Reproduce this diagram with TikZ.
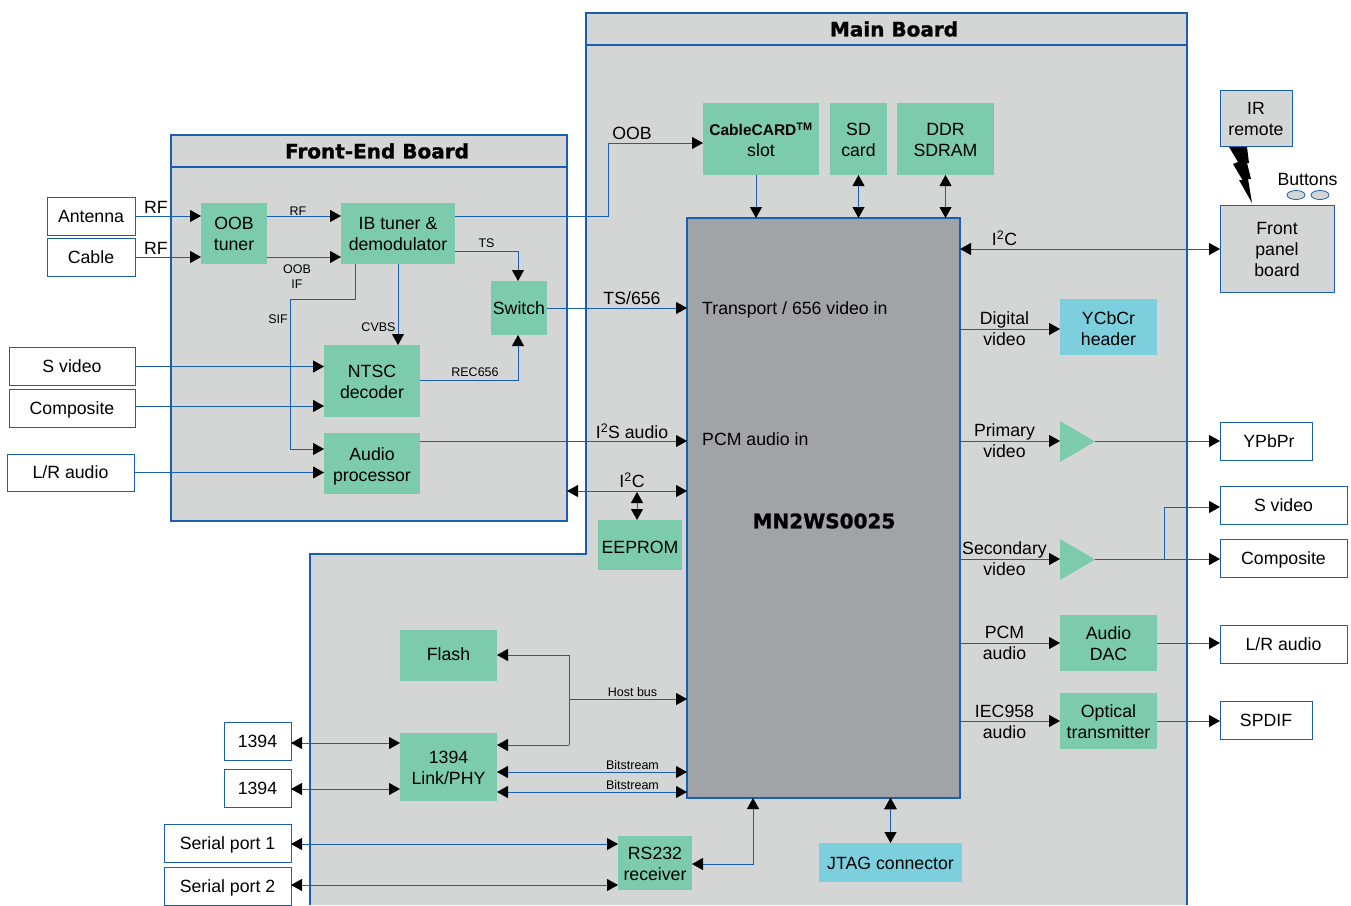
\documentclass[tikz,border=0pt]{standalone}
\usepackage{fontspec}
\setmainfont{Liberation Sans}
\newfontfamily\boardfont[FakeBold=1.2]{DejaVu Sans Bold}
\usetikzlibrary{arrows.meta}
\definecolor{boardgrey}{HTML}{D4D6D6}
\definecolor{socgrey}{HTML}{A0A4A7}
\definecolor{boardblue}{HTML}{1A5FAF}
\definecolor{chipgreen}{HTML}{7BCBAC}
\definecolor{headercyan}{HTML}{7CD0DE}

\begin{document}
\begin{tikzpicture}[x=1pt, y=-1pt,
  chip node/.style={fill=chipgreen, inner sep=0pt, outer sep=0pt, align=center, text depth=0pt, font=\fontsize{17.7}{21}\selectfont},
  cyan node/.style={chip node, fill=headercyan},
  port node/.style={chip node, fill=white, draw=boardblue, line width=1pt},
  grey node/.style={port node, fill=boardgrey},
  two lines/.style={text height=35pt},
  big label/.style={inner sep=0pt, align=center, text depth=0pt, font=\fontsize{17.7}{21}\selectfont},
  small label/.style={inner sep=0pt, align=center, font=\fontsize{12.5}{15}\selectfont},
  title label/.style={inner sep=0pt, font=\boardfont\fontsize{20}{24}\selectfont},
  link/.style={draw=boardblue, line width=1pt},
  to/.style={link, -{Triangle[length=11pt,width=12pt,color=black]}},
  both/.style={link, {Triangle[length=11pt,width=12pt,color=black]}-{Triangle[length=11pt,width=12pt,color=black]}}]
\useasboundingbox (0,0) rectangle (1351,905);

% main board
\fill[boardgrey] (586,13) -- (1187,13) -- (1187,905) -- (310,905) -- (310,554) -- (586,554) -- cycle;
\draw[boardblue, line width=1.8pt] (310,905) -- (310,554) -- (586,554) -- (586,13) -- (1187,13) -- (1187,905);
\draw[boardblue, line width=1.8pt] (586,45) -- (1187,45);
\node[title label] (maintitle) at (894,29) {Main Board};

% front-end board
\draw[boardblue, fill=boardgrey, line width=1.8pt] (171,135) rectangle (567,521);
\draw[boardblue, line width=1.8pt] (171,167) -- (567,167);
\node[title label] (fronttitle) at (377,151) {Front-End Board};

% left ports
\node[port node, minimum width=88pt, minimum height=38pt] (antenna) at (91,216) {Antenna};
\node[port node, minimum width=88pt, minimum height=38pt] (cable) at (91,257) {Cable};
\node[port node, minimum width=126pt, minimum height=38pt] (svideoin) at (72,366.5) {S video};
\node[port node, minimum width=126pt, minimum height=38pt] (compositein) at (72,408) {Composite};
\node[port node, minimum width=127pt, minimum height=37pt] (lrin) at (70.5,472.5) {L/R audio};

% front-end blocks
\node[chip node, minimum width=66pt, minimum height=61pt] (oob) at (234,233.5) {OOB\\tuner};
\node[chip node, minimum width=114pt, minimum height=61pt] (ib) at (398,233.5) {IB tuner \&\\demodulator};
\node[chip node, minimum width=56pt, minimum height=54pt] (switch) at (519,308) {Switch};
\node[chip node, two lines, minimum width=96pt, minimum height=72pt] (ntsc) at (372,381) {NTSC\\decoder};
\node[chip node, two lines, minimum width=96pt, minimum height=61pt] (audioproc) at (372,463.5) {Audio\\processor};

% main board blocks
\node[chip node, two lines, minimum width=116pt, minimum height=72pt] (cablecard) at (761,139) {{\bfseries\fontsize{15.5}{21}\selectfont CableCARD\textsuperscript{TM}}\\slot};
\node[chip node, two lines, minimum width=57pt, minimum height=72pt] (sd) at (858.5,139) {SD\\card};
\node[chip node, two lines, minimum width=97pt, minimum height=72pt] (ddr) at (945.5,139) {DDR\\SDRAM};
\node[port node, fill=socgrey, line width=1.8pt, minimum width=273pt, minimum height=580pt] (soc) at (823.5,508) {};
\node[chip node, text height=16pt, minimum width=84pt, minimum height=50pt] (eeprom) at (640,545) {EEPROM};
\node[chip node, text height=9pt, minimum width=97pt, minimum height=51pt] (flash) at (448.5,655.5) {Flash};
\node[chip node, two lines, minimum width=97pt, minimum height=68pt] (linkphy) at (448.5,767) {1394\\Link/PHY};
\node[chip node, two lines, minimum width=74pt, minimum height=54pt] (rs232) at (655,863) {RS232\\receiver};
\node[cyan node, text height=14pt, minimum width=143pt, minimum height=39pt] (jtag) at (890.5,862.5) {JTAG connector};
\node[cyan node, text height=37pt, minimum width=97pt, minimum height=56pt] (ycbcr) at (1108.5,327) {YCbCr\\header};
\node[chip node, two lines, minimum width=97pt, minimum height=56pt] (dac) at (1108.5,643) {Audio\\DAC};
\node[chip node, two lines, minimum width=97pt, minimum height=56pt] (optical) at (1108.5,721) {Optical\\transmitter};

% amplifiers
\fill[chipgreen] (1060,421) -- (1095,441.5) -- (1060,462) -- cycle;
\fill[chipgreen] (1060,539) -- (1095,559.5) -- (1060,580) -- cycle;
\coordinate (amp1in) at (1060,441);
\coordinate (amp1out) at (1095,441);
\coordinate (amp2in) at (1060,559);
\coordinate (amp2out) at (1095,559);

% lower left ports
\node[port node, minimum width=67pt, minimum height=38pt] (firewirea) at (257.5,741) {1394};
\node[port node, minimum width=67pt, minimum height=38pt] (firewireb) at (257.5,788) {1394};
\node[port node, minimum width=127pt, minimum height=38pt] (serialone) at (227.5,843) {Serial port 1};
\node[port node, minimum width=127pt, minimum height=38pt] (serialtwo) at (227.5,886) {Serial port 2};

% right ports
\node[grey node, two lines, minimum width=72pt, minimum height=56pt] (irremote) at (1256,118) {IR\\remote};
\node[grey node, text height=55pt, minimum width=114pt, minimum height=87pt] (frontpanel) at (1277,248.5) {Front\\panel\\board};
\node[port node, minimum width=92pt, minimum height=38pt] (ypbpr) at (1266,441) {\hspace*{6pt}YPbPr};
\node[port node, minimum width=127pt, minimum height=38pt] (svideoout) at (1283.5,505) {S video};
\node[port node, minimum width=127pt, minimum height=38pt] (compositeout) at (1283.5,558) {Composite};
\node[port node, minimum width=127pt, minimum height=38pt] (lrout) at (1283.5,644) {L/R audio};
\node[port node, minimum width=92pt, minimum height=38pt] (spdif) at (1266,720) {SPDIF};

% buttons and IR beam
\node[big label] (buttons) at (1307.5,179) {Buttons};
\draw[boardblue, fill=boardgrey, line width=0.8pt] (1296,195) ellipse (9 and 4.5);
\draw[boardblue, fill=boardgrey, line width=0.8pt] (1320,195) ellipse (9 and 4.5);
\fill[black] (1229,147) -- (1247,147) -- (1249,163) -- (1247,163) -- (1251,179) -- (1248,179) -- (1252,203) -- (1239,180) -- (1242.5,180) -- (1233,164) -- (1238,162) -- cycle;

% helper points for bends
\coordinate (oobbend) at (608,216);
\coordinate (oobtop) at (608,143);
\coordinate (tsbend) at (518,251);
\coordinate (recbend) at (518,380);
\coordinate (sifa) at (355,299);
\coordinate (sifb) at (290,299);
\coordinate (sifc) at (290,449);
\coordinate (hosttop) at (569,655);
\coordinate (hostmid) at (569,699);
\coordinate (hostlow) at (569,745);
\coordinate (rsbend) at (753,864);
\coordinate (split) at (1164,559);
\coordinate (splittop) at (1164,507);

\path[]
% into the front-end board
(antenna.east) [to] edge node [] {} (antenna.east -| oob.west)
(cable.east) [to] edge node [] {} (cable.east -| oob.west)
(oob.east |- antenna.east) [to] edge node [] {} (antenna.east -| ib.west)
(oob.east |- cable.east) [to] edge node [] {} (cable.east -| ib.west)
(svideoin.east) [to] edge node [] {} (svideoin.east -| ntsc.west)
(compositein.east |- 0,406) [to] edge node [] {} (ntsc.west |- 0,406)
(lrin.east) [to] edge node [] {} (lrin.east -| audioproc.west)
(ib.south) [to] edge node [] {} (ib.south |- ntsc.north)

% front-end board -> main board
(switch.east) [to] edge node [] {} (switch.east -| soc.west)
(audioproc.east |- 0,441) [to] edge node [] {} (soc.west |- 0,441)
(567,491) [both] edge node [] {} (soc.west |- 0,491)
(eeprom.north -| 637,0) [both] edge node [] {} (637,492)

% top of the main board
(cablecard.south -| 756,0) [to] edge node [] {} (soc.north -| 756,0)
(sd.south) [both] edge node [] {} (sd.south |- soc.north)
(ddr.south) [both] edge node [] {} (ddr.south |- soc.north)

% right of the chip
(soc.east |- 0,249) [both] edge node [] {} (frontpanel.west |- 0,249)
(soc.east |- 0,329) [to] edge node [] {} (ycbcr.west |- 0,329)
(soc.east |- amp1in) [to] edge node [] {} (amp1in)
(amp1out) [to] edge node [] {} (ypbpr.west |- amp1out)
(soc.east |- amp2in) [to] edge node [] {} (amp2in)
(amp2out) [to] edge node [] {} (compositeout.west |- amp2out)
(soc.east |- dac.west) [to] edge node [] {} (dac.west)
(dac.east) [to] edge node [] {} (dac.east -| lrout.west)
(soc.east |- optical.west) [to] edge node [] {} (optical.west)
(optical.east) [to] edge node [] {} (optical.east -| spdif.west)

% below and left of the chip
(hostmid) [to] edge node [] {} (soc.west |- hostmid)
(linkphy.east |- 0,772) [both] edge node [] {} (soc.west |- 0,772)
(linkphy.east |- 0,792) [both] edge node [] {} (soc.west |- 0,792)
(firewirea.east |- 0,743) [both] edge node [] {} (linkphy.west |- 0,743)
(firewireb.east |- 0,789) [both] edge node [] {} (linkphy.west |- 0,789)
(serialone.east |- 0,844) [both] edge node [] {} (rs232.west |- 0,844)
(serialtwo.east |- 0,885) [both] edge node [] {} (rs232.west |- 0,885)
(soc.south -| jtag.north) [both] edge node [] {} (jtag.north)
;

% bent connectors
\draw[link] (ib.east |- antenna.east) -- (oobbend) -- (oobtop);
\draw[to] (oobtop) -- (cablecard.west |- oobtop);
\draw[to] (ib.east |- tsbend) -- (tsbend) -- (tsbend |- switch.north);
\draw[to] (ntsc.east |- recbend) -- (recbend) -- (recbend |- switch.south);
\draw[to] (sifa |- ib.south) -- (sifa) -- (sifb) -- (sifc) -- (audioproc.west |- sifc);
\draw[to] (hosttop) -- (hosttop -| flash.east);
\draw[to] (hostlow) -- (hostlow -| linkphy.east);
\draw[link] (hosttop) -- (hostlow);
\draw[both] (rs232.east |- rsbend) -- (rsbend) -- (rsbend |- soc.south);
\draw[to] (split) -- (splittop) -- (splittop -| svideoout.west);

% labels
\node[big label] (rfa) at (156,207) {RF};
\node[big label] (rfb) at (156,248) {RF};
\node[small label] (rfc) at (298,211) {RF};
\node[small label] (ooblabel) at (297,277) {OOB\\IF};
\node[small label] (tslabel) at (486.5,243) {TS};
\node[small label] (siflabel) at (278,319.5) {SIF};
\node[small label] (cvbslabel) at (378.5,327) {CVBS};
\node[small label] (reclabel) at (475,372) {REC656};
\node[big label] (ooblabeltop) at (632,133) {OOB};
\node[big label] (tslabeltop) at (632,298) {TS/656};
\node[big label] (i2slabel) at (632,431) {I\textsuperscript{2}S audio};
\node[big label] (i2cleft) at (632,480) {I\textsuperscript{2}C};
\node[big label, anchor=west] (transport) at (702,308) {Transport / 656 video in};
\node[big label, anchor=west] (pcmin) at (702,439) {PCM audio in};
\node[title label] (socname) at (824,521) {MN2WS0025};
\node[big label] (i2cright) at (1004.5,238) {I\textsuperscript{2}C};
\node[big label] (digital) at (1004.5,328.5) {Digital\\video};
\node[big label] (primary) at (1004.5,440.5) {Primary\\video};
\node[big label] (secondary) at (1004.5,558.5) {Secondary\\video};
\node[big label] (pcmout) at (1004.5,642.5) {PCM\\audio};
\node[big label] (iec) at (1004.5,721.5) {IEC958\\audio};
\node[small label] (hostbus) at (632.5,692) {Host bus};
\node[small label] (bita) at (632.5,765) {Bitstream};
\node[small label] (bitb) at (632.5,785) {Bitstream};

\end{tikzpicture}
\end{document}
